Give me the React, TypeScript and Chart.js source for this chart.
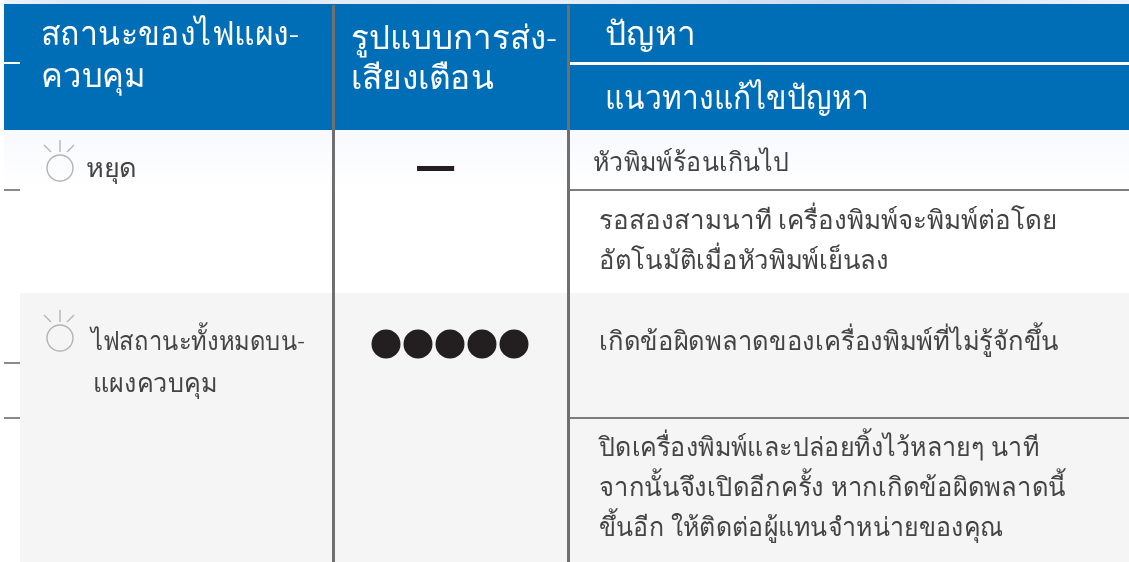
import React, { useEffect, useRef } from "react";
import { Chart, registerables } from "chart.js";

Chart.register(...registerables);

const headerLeft = ["สถานะของไฟแผง-", "ควบคุม"];
const headerMiddle = ["รูปแบบการส่ง-", "เสียงเตือน"];
const headerProblem = ["ปัญหา"];
const headerSolution = ["แนวทางแก้ไขปัญหา"];
const rowOneStatus = ["หยุด"];
const rowOneProblem = ["หัวพิมพ์ร้อนเกินไป"];
const rowOneSolution = ["รอสองสามนาที เครื่องพิมพ์จะพิมพ์ต่อโดย", "อัตโนมัติเมื่อหัวพิมพ์เย็นลง"];
const rowTwoStatus = ["ไฟสถานะทั้งหมดบน-", "แผงควบคุม"];
const rowTwoProblem = ["เกิดข้อผิดพลาดของเครื่องพิมพ์ที่ไม่รู้จักขึ้น"];
const rowTwoSolution = [
  "ปิดเครื่องพิมพ์และปล่อยทิ้งไว้หลายๆ นาที",
  "จากนั้นจึงเปิดอีกครั้ง หากเกิดข้อผิดพลาดนี้",
  "ขึ้นอีก ให้ติดต่อผู้แทนจำหน่ายของคุณ",
];
const beepPulses = [1, 2, 3, 4, 5];
const longBeep = [1.97, 3.13];

const W = 1129;
const H = 562;
const FONT = '"Noto Sans", "DejaVu Sans", sans-serif';
const HEAD = "#006DB7";
const GREY = "#6f6f6f";
const INK = "#444444";

type TextBlock = { lines: string[]; x: number[]; y: number; step: number; size: number; color: string; widths: number[] };
const blocks: TextBlock[] = [
  { lines: headerLeft, x: [41, 41], y: 45, step: 42, size: 33, color: "#fff", widths: [258, 105] },
  { lines: headerMiddle, x: [351, 351], y: 49, step: 40, size: 33, color: "#fff", widths: [206, 143] },
  { lines: headerProblem, x: [605], y: 45, step: 0, size: 33, color: "#fff", widths: [91] },
  { lines: headerSolution, x: [605], y: 109, step: 0, size: 33, color: "#fff", widths: [264] },
  { lines: rowOneStatus, x: [86], y: 177, step: 0, size: 26, color: INK, widths: [51] },
  { lines: rowOneProblem, x: [593], y: 171, step: 0, size: 26, color: INK, widths: [196] },
  { lines: rowOneSolution, x: [599, 599], y: 229, step: 40, size: 26, color: INK, widths: [458, 290] },
  { lines: rowTwoStatus, x: [91, 93], y: 350, step: 42, size: 26, color: INK, widths: [214, 124] },
  { lines: rowTwoProblem, x: [599], y: 350, step: 0, size: 26, color: INK, widths: [460] },
  { lines: rowTwoSolution, x: [599, 599, 599], y: 456, step: 40, size: 26, color: INK, widths: [440, 467, 404] },
];

const tablePlugin = {
  id: "tablePlugin",
  beforeDatasetsDraw(chart: any) {
    const { ctx, scales } = chart;
    const X = (v: number) => scales.x.getPixelForValue(v);
    const Y = (v: number) => scales.y.getPixelForValue(v);
    const rect = (x0: number, y0: number, x1: number, y1: number, fill: any) => {
      ctx.fillStyle = fill;
      ctx.fillRect(X(x0), Y(y0), X(x1) - X(x0), Y(y1) - Y(y0));
    };
    ctx.save();
    rect(0, 0, W, H, "#ffffff");
    const strip = ctx.createLinearGradient(0, 0, W, 0);
    strip.addColorStop(0, "#f0f4fa");
    strip.addColorStop(0.06, "#dfe8f5");
    strip.addColorStop(0.5, "#e6edf8");
    strip.addColorStop(0.78, "#c8d8ef");
    strip.addColorStop(0.9, "#e3ebf7");
    strip.addColorStop(1, "#eef2fa");
    rect(4, 0, W, 4, strip);
    const fade = ctx.createLinearGradient(0, 130, 0, 190);
    fade.addColorStop(0, "#f8f9fd");
    fade.addColorStop(1, "#ffffff");
    rect(4, 130, W, 190, fade);
    rect(20, 293, W, H, "#f5f5f5");
    rect(4, 4, W, 130, HEAD);
    rect(4, 62, 20, 64, "#ffffff");
    rect(570, 62, W, 65, "#ffffff");
    rect(4, 189, 20, 191, "#8a8a8a");
    rect(4, 362, 20, 364, "#8a8a8a");
    rect(4, 417, 20, 419, "#8a8a8a");
    rect(570, 189, W, 191, "#7d7d7d");
    rect(570, 417, W, 419, "#7d7d7d");
    rect(332, 5, 335, H, GREY);
    rect(567, 5, 570, H, GREY);

    // status lamps
    [168, 338].forEach((cy) => {
      const py = Y(cy);
      const px = X(60);
      ctx.strokeStyle = "#b4b4b4";
      ctx.lineWidth = 1.4;
      ctx.beginPath();
      ctx.arc(px, py, 13, 0, Math.PI * 2);
      ctx.stroke();
      ctx.beginPath();
      ctx.moveTo(px, py - 28);
      ctx.lineTo(px, py - 16);
      ctx.moveTo(px - 16, py - 23);
      ctx.lineTo(px - 9, py - 16);
      ctx.moveTo(px + 14, py - 23);
      ctx.lineTo(px + 7, py - 16);
      ctx.stroke();
    });
    ctx.restore();
  },
  afterDatasetsDraw(chart: any) {
    const { ctx, scales } = chart;
    ctx.textBaseline = "alphabetic";
    ctx.textAlign = "left";
    blocks.forEach((b) => {
      b.lines.forEach((line, i) => {
        ctx.save();
        ctx.font = `300 ${b.size}px ${FONT}`;
        ctx.fillStyle = b.color;
        ctx.translate(scales.x.getPixelForValue(b.x[i]), scales.y.getPixelForValue(b.y + i * b.step));
        ctx.scale(b.widths[i] / ctx.measureText(line).width, 1);
        ctx.fillText(line, 0, 0);
        ctx.restore();
      });
    });
  },
};

export default function App() {
  const ref = useRef<HTMLCanvasElement | null>(null);
  useEffect(() => {
    if (!ref.current) return;
    const stepPx = 32;
    const firstPx = 386;
    const beepMin = 1 - firstPx / stepPx;
    const chart = new Chart(ref.current, {
      type: "scatter",
      data: {
        datasets: [
          {
            label: "เสียงเตือน ●●●●●",
            data: beepPulses.map((p) => ({ x: p, y: 344 })),
            xAxisID: "beep",
            yAxisID: "y",
            pointRadius: 14.5,
            pointBackgroundColor: "#231f20",
            pointBorderWidth: 0,
            showLine: false,
          },
          {
            label: "เสียงเตือน —",
            data: longBeep.map((p) => ({ x: p, y: 168.5 })),
            xAxisID: "beep",
            yAxisID: "y",
            showLine: true,
            borderColor: "#231f20",
            borderWidth: 5,
            pointRadius: 0,
          },
        ],
      },
      options: {
        animation: false,
        responsive: false,
        layout: { padding: 0, autoPadding: false },
        plugins: { legend: { display: false }, tooltip: { enabled: false }, title: { display: false } },
        scales: {
          x: { type: "linear", display: false, min: 0, max: W },
          beep: { type: "linear", display: false, min: beepMin, max: beepMin + W / stepPx },
          y: { type: "linear", display: false, min: 0, max: H, reverse: true },
        },
      },
      plugins: [tablePlugin],
    } as any);
    return () => chart.destroy();
  }, []);
  return (
    <div style={{ position: "absolute", left: 0, top: 0, width: W, height: H, overflow: "hidden" }}>
      <canvas ref={ref} width={W} height={H} style={{ display: "block" }} />
    </div>
  );
}
